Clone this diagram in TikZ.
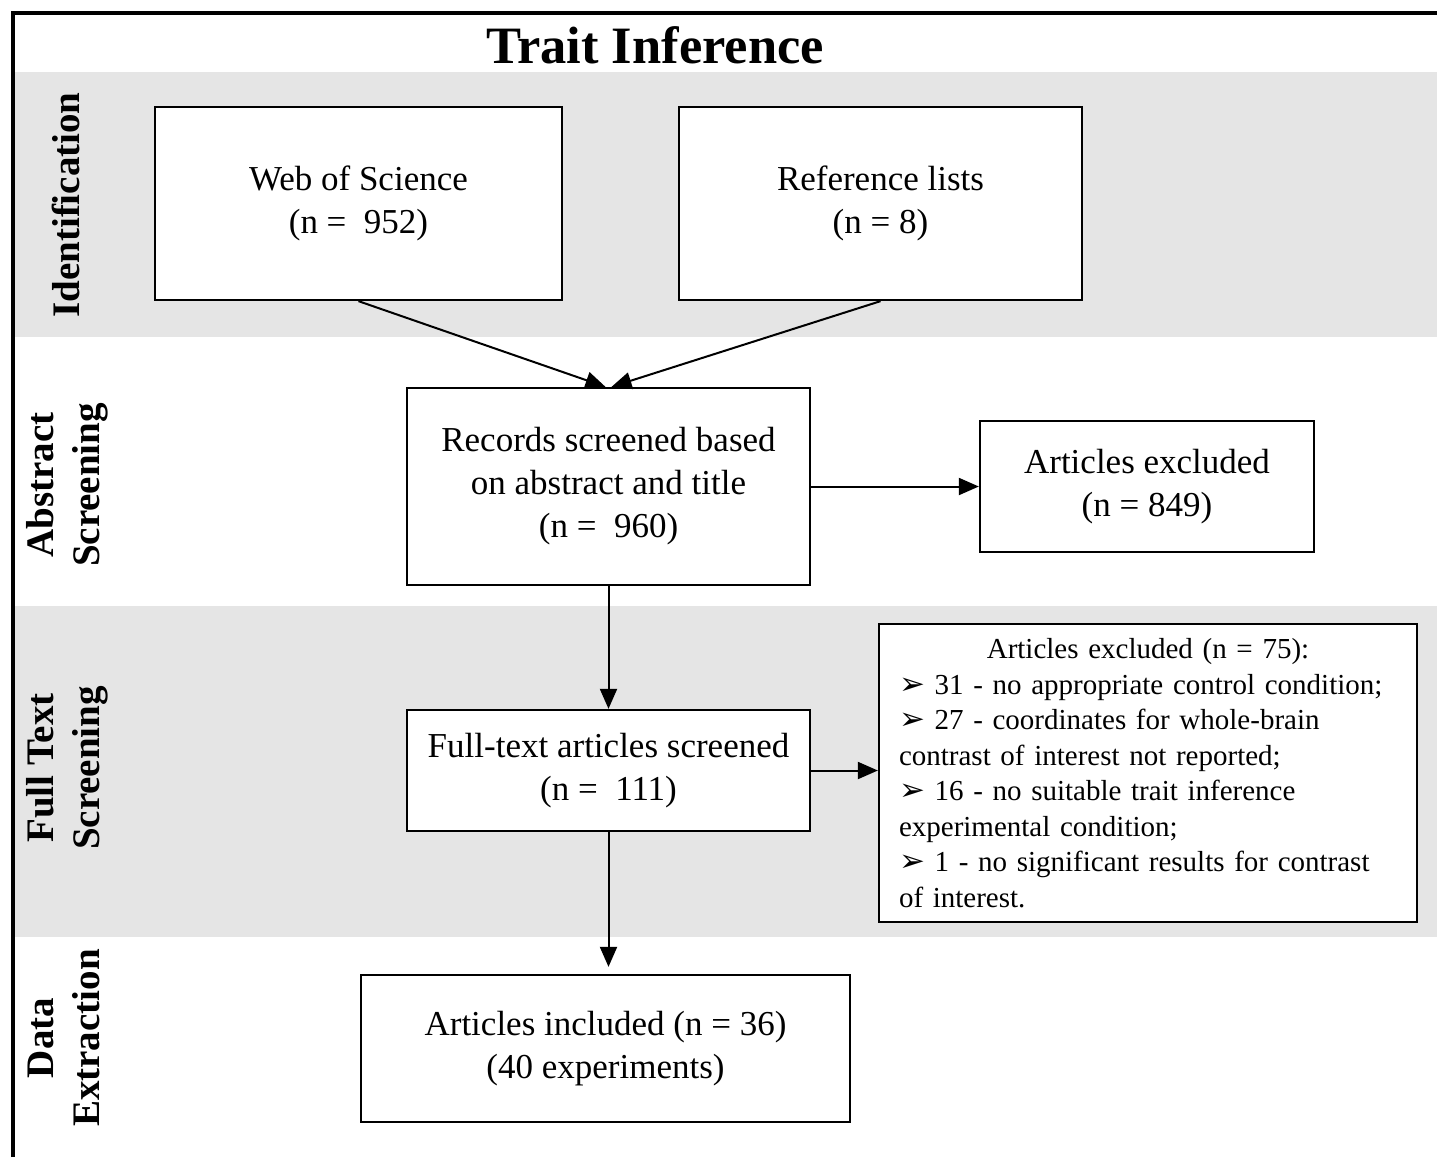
\documentclass[tikz,border=0pt]{standalone}
\usepackage{fontspec}
\setmainfont{Liberation Serif}
\newfontfamily\dingfont{DejaVu Sans}
\usetikzlibrary{arrows.meta}
\definecolor{bandgray}{RGB}{229,229,229}
\newcommand{\pointer}{{\dingfont\fontsize{31}{31}\selectfont ➢}}

\begin{document}
\begin{tikzpicture}[x=1pt,y=-1pt,
  box/.style={draw, line width=2.3pt, fill=white, align=center,
    font=\fontsize{35}{43}\selectfont, inner sep=0pt},
  phase/.style={rotate=90, align=center,
    font=\fontsize{39}{46}\selectfont\bfseries},
  flow/.style={-{Triangle[length=20pt,width=17pt]}, line width=2pt},
]
\useasboundingbox (0,0) rectangle (1437,1157);

% shaded phase bands
\fill[bandgray] (15,72) rectangle (1437,337);
\fill[bandgray] (15,606) rectangle (1437,937);

% outer frame (top and left rules)
\draw[line width=4pt, line join=miter] (13,1157) -- (13,13) -- (1437,13);

% title
\node[font=\fontsize{52.5}{52.5}\selectfont\bfseries] (title) at (655,45) {Trait Inference};

% phase labels
\node[phase] (p1) at (66,205) {Identification};
\node[phase] (p2) at (67,485) {Abstract\\Screening};
\node[phase] (p3) at (67,768) {Full Text\\Screening};
\node[phase] (p4) at (64,1038) {Data\\Extraction};

% boxes
\node[box, minimum width=407pt, minimum height=193pt] (wos) at (358.5,203.5)
  {Web of Science\\(n =\ \ 952)};
\node[box, minimum width=403pt, minimum height=193pt] (ref) at (880.5,203.5)
  {Reference lists\\(n = 8)};
\node[box, minimum width=403pt, minimum height=197pt] (rec) at (608.5,486.5)
  {Records screened based\\on abstract and title\\(n =\ \ 960)};
\node[box, minimum width=334pt, minimum height=131pt] (exc) at (1147,486.5)
  {Articles excluded\\(n = 849)};
\node[box, minimum width=403pt, minimum height=121pt] (ft) at (608.5,770.5)
  {Full-text articles screened\\(n =\ \ 111)};
\node[box, font=\fontsize{29}{35.5}\selectfont, text width=498pt, align=left,
  minimum height=298pt, inner xsep=20pt] (list) at (1148,773)
  {\makebox[498pt]{Articles excluded (n = 75):}\\
   \pointer\ 31 - no appropriate control condition;\\
   \pointer\ 27 - coordinates for whole-brain\\
   contrast of interest not reported;\\
   \pointer\ 16 - no suitable trait inference\\
   experimental condition;\\
   \pointer\ 1 - no significant results for contrast\\
   of interest.};
\node[box, minimum width=489pt, minimum height=147pt] (inc) at (605.5,1048.5)
  {Articles included (n = 36)\\(40 experiments)};

% connectors
\draw[flow] (wos.south) -- ([xshift=-3pt]rec.north);
\draw[flow] (ref.south) -- ([xshift=3pt]rec.north);
\draw[flow] (rec.east) -- (exc.west);
\draw[flow] (rec.south) -- (ft.north);
\draw[flow] (ft.east) -- (ft.east -| list.west);
\draw[flow, shorten >=7pt] (ft.south) -- (ft.south |- inc.north);
\end{tikzpicture}
\end{document}
